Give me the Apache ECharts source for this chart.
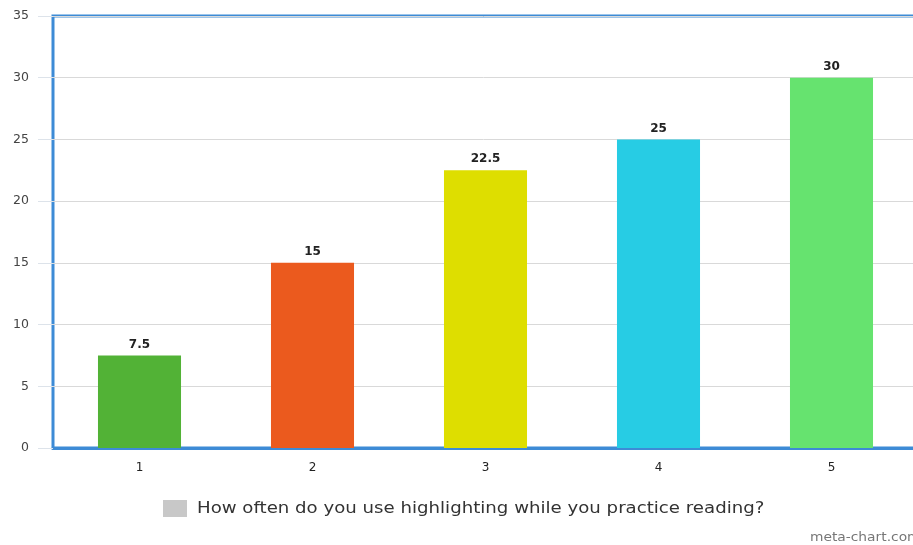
<!DOCTYPE html>
<html>
<head>
<meta charset="utf-8">
<script src="https://cdn.jsdelivr.net/npm/echarts@6/dist/echarts.min.js"></script>
<style>
  html, body { margin: 0; padding: 0; background: #fff; }
  #chart { width: 913px; height: 545px; }
</style>
</head>
<body>
<div id="chart"></div>
<script>
// Answers to the highlighting survey question
const categories = ['1', '2', '3', '4', '5'];
const values = [7.5, 15, 22.5, 25, 30];
const barColors = ['#52b236', '#eb5a1e', '#dede00', '#27cce4', '#66e36f'];
const yTicks = [0, 5, 10, 15, 20, 25, 30, 35];
const seriesName = 'How often do you use highlighting while you practice reading?';

const chart = echarts.init(document.getElementById('chart'));
chart.setOption({
  animation: false,
  textStyle: { fontFamily: 'DejaVu Sans, Verdana, sans-serif' },
  grid: {
    left: 53, top: 16, width: 865, bottom: 97,
    outerBoundsMode: 'none',
    containLabel: false,
    show: true, borderColor: '#3d8bd6', borderWidth: 3, backgroundColor: 'transparent'
  },
  legend: {
    data: [{ name: seriesName, itemStyle: { color: '#c8c8c8' } }],
    left: 158, top: 495,
    itemWidth: 24, itemHeight: 17, itemGap: 10,
    icon: 'rect',
    // the caption is drawn wider by the text element below
    formatter: () => ' ',
    textStyle: { fontSize: 15, color: '#333' }
  },
  xAxis: {
    type: 'category',
    data: categories,
    axisLine: { lineStyle: { color: '#3d8bd6', width: 3 } },
    axisTick: { length: 10, lineStyle: { color: '#c5d8ee' } },
    axisLabel: { fontSize: 12, color: '#222', margin: 14 },
    splitLine: { show: false }
  },
  yAxis: {
    type: 'value',
    min: yTicks[0], max: yTicks[yTicks.length - 1], interval: 5,
    axisLine: { show: false },
    axisTick: { show: true, length: 15, lineStyle: { color: '#dde3ea' } },
    axisLabel: { fontSize: 12.5, color: '#444', margin: 24 },
    splitLine: { lineStyle: { color: '#d9d9d9' } }
  },
  series: [{
    name: seriesName,
    type: 'bar',
    barWidth: '48%',
    data: values.map((v, i) => ({ value: v, itemStyle: { color: barColors[i] } })),
    label: {
      show: true, position: 'top', distance: 5,
      fontSize: 12, fontWeight: 'bold', color: '#222'
    }
  }],
  graphic: [
    {
      type: 'text', x: 197, y: 509, scaleX: 1.21,
      style: {
        text: seriesName, fontSize: 15, fill: '#333',
        fontFamily: 'DejaVu Sans, sans-serif', verticalAlign: 'middle'
      }
    },
    {
      type: 'text', x: 810, y: 538, scaleX: 1.15,
      style: {
        text: 'meta-chart.com', fontSize: 12, fill: '#777',
        fontFamily: 'DejaVu Sans, sans-serif', verticalAlign: 'middle'
      }
    }
  ]
});
</script>
</body>
</html>
